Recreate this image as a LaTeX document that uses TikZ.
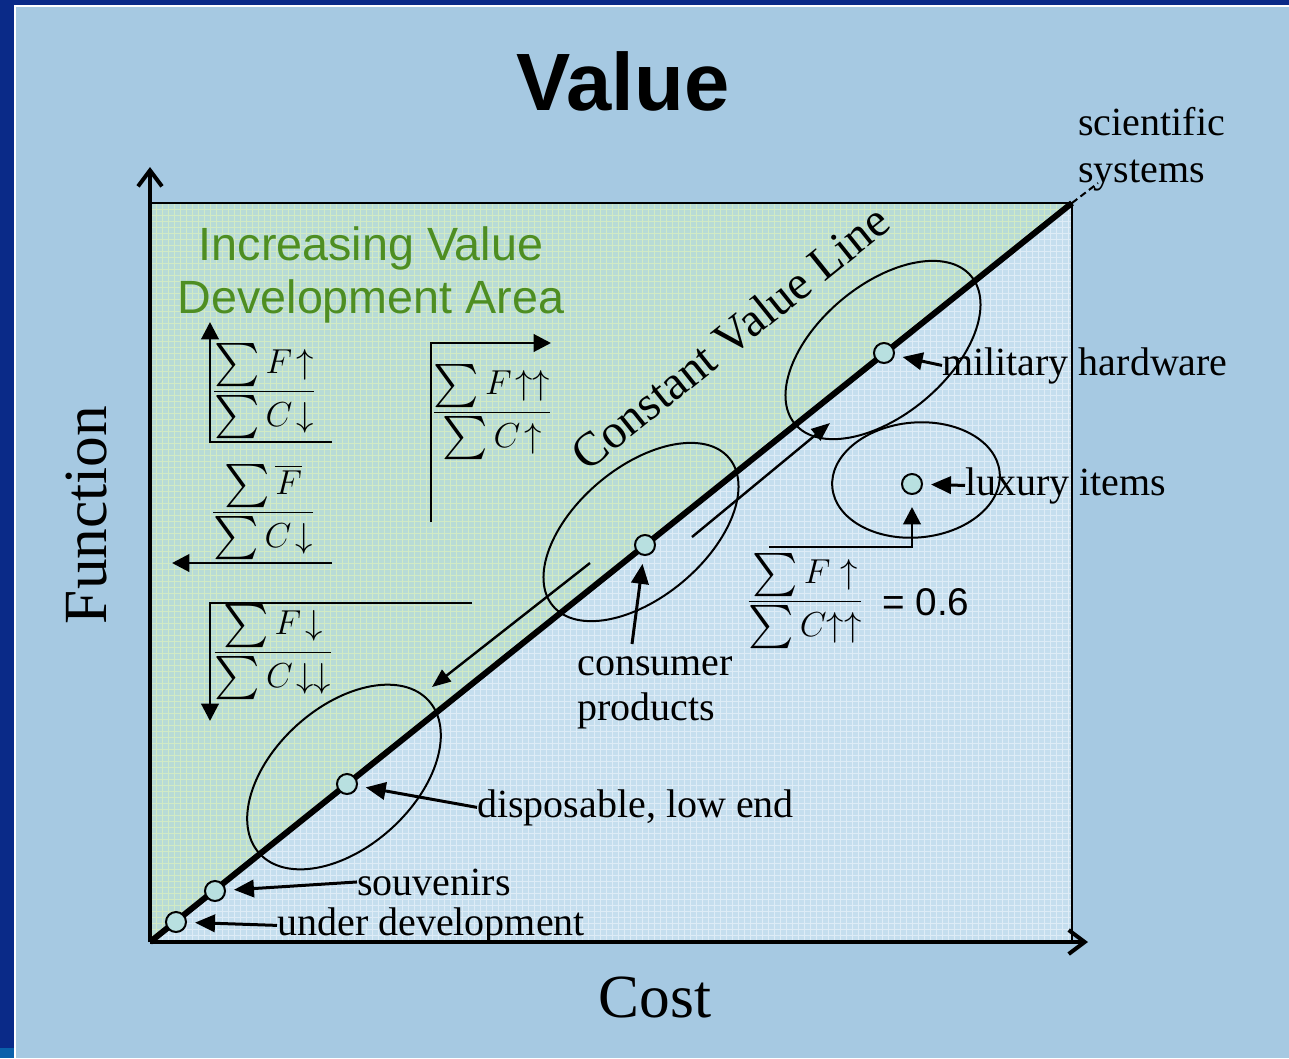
\RequirePackage{fix-cm}
\documentclass[tikz,border=0pt]{standalone}
\usepackage{amsmath}
\usepackage{fontspec}
\setmainfont{Liberation Serif}
\newfontfamily\sansf{Liberation Sans}
\usetikzlibrary{arrows.meta}
\definecolor{bgblue}{RGB}{166,201,226}
\definecolor{darkblue}{RGB}{10,42,136}
\definecolor{midblue}{RGB}{10,96,170}
\definecolor{greenarea}{RGB}{184,219,214}
\definecolor{bluearea}{RGB}{197,222,238}
\definecolor{gridgreen}{RGB}{210,234,196}
\definecolor{gridblue}{RGB}{222,236,246}
\definecolor{dotfill}{RGB}{184,224,224}
\definecolor{valgreen}{RGB}{78,142,34}
\newcommand\Sg{\mathop{\vcenter{\hbox{\scalebox{1.3}{$\textstyle\sum$}}}}}
\begin{document}
\begin{tikzpicture}[x=0.75pt,y=-0.75pt,
  dot/.style={circle,draw=black,line width=1.5pt,fill=dotfill,minimum size=15pt,inner sep=0pt},
  lbl/.style={font=\fontsize{30}{36}\selectfont,inner sep=0pt,anchor=base west},
  ptr/.style={line width=2.25pt,-{Triangle[length=15pt,width=13pt]},shorten >=6pt},
  fracnode/.style={font=\fontsize{26}{31}\selectfont,inner sep=0pt,anchor=base},
  larr/.style={line width=2.2pt,-{Triangle[length=13pt,width=13pt]}},
  diagarr/.style={line width=1.8pt,-{Triangle[length=14pt,width=11pt]}},
  axisline/.style={line width=3pt,-{Straight Barb[length=12pt,width=18pt]}},
  oval/.style={line width=1.5pt},
  gridlineg/.style={draw=gridgreen,line width=0.6pt},
  gridlineb/.style={draw=gridblue,line width=0.6pt}]
\useasboundingbox (0,0) rectangle (1289,1058);
% background frame
\fill[bgblue] (0,0) rectangle (1289,1058);
\fill[darkblue] (0,0) rectangle (14,1058);
\fill[darkblue] (0,0) rectangle (1289,5);
\fill[midblue] (0,1048) rectangle (14,1058);
\fill[white] (14,5) rectangle (16,1058);
\fill[white] (14,5) rectangle (1289,7);
% plot areas
\fill[greenarea] (150,942) -- (150,203) -- (1072,203) -- cycle;
\fill[bluearea] (150,942) -- (1072,942) -- (1072,203) -- cycle;
\begin{scope}
\clip (150,942) -- (150,203) -- (1072,203) -- cycle;
\foreach \i in {0,...,154} \draw[gridlineg] ({150+6*\i},203) -- ++(0,739);
\foreach \j in {0,...,124} \draw[gridlineg] (150,{203+6*\j}) -- ++(922,0);
\end{scope}
\begin{scope}
\clip (150,942) -- (1072,942) -- (1072,203) -- cycle;
\foreach \i in {0,...,154} \draw[gridlineb] ({150+6*\i},203) -- ++(0,739);
\foreach \j in {0,...,124} \draw[gridlineb] (150,{203+6*\j}) -- ++(922,0);
\end{scope}
% coordinates
\coordinate (O) at (150,942);
\coordinate (TR) at (1072,203);
\coordinate (BR) at (1072,942);
\coordinate (TL) at (150,203);
\coordinate (xend) at (1088,942);
\coordinate (yend) at (150,167);
\coordinate (dashend) at (1098,183);
% frame lines
\draw[line width=1.5pt] (TL) -- (TR) -- (BR);
\draw[line width=1.5pt,dash pattern=on 5pt off 3pt] (TR) -- (dashend);
% axes
\draw[axisline] (O) -- (yend);
\draw[axisline] (O) -- (xend);
% diagonal
\draw[line width=4.5pt] (O) -- (TR);
% ellipses
\draw[oval,rotate around={42:(344,777)}] (344,777) ellipse [x radius=114,y radius=70];
\draw[oval,rotate around={40:(641,532)}] (641,532) ellipse [x radius=115,y radius=65];
\draw[oval,rotate around={40:(883,350)}] (883,350) ellipse [x radius=115,y radius=65];
\draw[oval,rotate around={5:(916,480)}] (916,480) ellipse [x radius=84,y radius=57.5];
% diagonal arrows
\coordinate (d1s) at (590,563);
\coordinate (d1e) at (432,687);
\coordinate (d2s) at (692,537);
\coordinate (d2e) at (830,423);
\draw[diagarr] (d1s) -- (d1e);
\draw[diagarr] (d2s) -- (d2e);
% dots
\node[dot] (ud) at (176,922) {};
\node[dot] (sv) at (215,891) {};
\node[dot] (dp) at (347,784) {};
\node[dot] (cp) at (645,545) {};
\node[dot] (mh) at (884,353) {};
\node[dot] (lux) at (912,484) {};
% labels
\node[lbl] (udl) at (277,935) {under development};
\node[lbl] (svl) at (357,895) {souvenirs};
\node[lbl] (dpl) at (477,817) {disposable, low end};
\node[lbl] (cpl1) at (577,675) {consumer};
\node[lbl] (cpl2) at (577,720) {products};
\node[lbl] (mhl) at (942,375) {military hardware};
\node[lbl] (luxl) at (965,495) {luxury items};
\node[lbl] (sc1) at (1078,135) {scientific};
\node[lbl] (sc2) at (1078,182) {systems};
% pointers
\coordinate (cptail) at (632,644);
\draw[ptr] (udl.west) -- (ud);
\draw[ptr] (svl.west) -- (sv);
\draw[ptr] (dpl.west) -- (dp);
\draw[ptr] (cptail) -- (cp);
\draw[ptr] (mhl.west) -- (mh);
\draw[ptr] (luxl.west) -- (lux);
% title and axis labels
\node[font=\sansf\bfseries\fontsize{61}{72}\selectfont,inner sep=0pt,anchor=base] (title) at (623,110) {Value};
\node[font=\fontsize{46}{54}\selectfont,inner sep=0pt,anchor=base] (cost) at (655,1017) {Cost};
\node[font=\fontsize{46}{54}\selectfont,inner sep=0pt,anchor=base,rotate=90] (func) at (106,515) {Function};
\node[font=\fontsize{36}{42}\selectfont,inner sep=0pt,anchor=base,rotate=38.7] (cvl) at (740,350) {Constant Value Line};
\node[font=\sansf\fontsize{35}{41}\selectfont,text=valgreen,inner sep=0pt,anchor=base] (g1) at (371,260) {Increasing Value};
\node[font=\sansf\fontsize{35}{41}\selectfont,text=valgreen,inner sep=0pt,anchor=base] (g2) at (371,313) {Development Area};
% fractions
\node[fracnode] (f1) at (264,400) {$\dfrac{\Sg F\mkern2mu{\uparrow}}{\Sg C\mkern2mu{\downarrow}}$};
\node[fracnode] (f2) at (263,521) {$\dfrac{\Sg \overline{F}}{\Sg C\mkern2mu{\downarrow}}$};
\node[fracnode] (f3) at (273,661) {$\dfrac{\Sg F\mkern2mu{\downarrow}}{\Sg C\mkern2mu{\downarrow\downarrow}}$};
\node[fracnode] (f4) at (492,421) {$\dfrac{\Sg F\mkern2mu{\uparrow\uparrow}}{\Sg C\mkern2mu{\uparrow}}$};
\node[fracnode] (f5) at (805,610) {$\dfrac{\Sg F\;{\uparrow}}{\Sg C{\uparrow\uparrow}}$};
\node[font=\sansf\fontsize{29}{34}\selectfont,inner sep=0pt,anchor=base west] (eq) at (882,615) {= 0.6};
% L-shaped direction arrows
\coordinate (a1e) at (332,442);
\coordinate (a1c) at (210,442);
\coordinate (a1t) at (210,322);
\draw[larr] (a1e) -- (a1c) -- (a1t);
\coordinate (a2s) at (332,563);
\coordinate (a2t) at (172,563);
\draw[larr] (a2s) -- (a2t);
\coordinate (a3s) at (472,603);
\coordinate (a3c) at (210,603);
\coordinate (a3t) at (210,721);
\draw[larr] (a3s) -- (a3c) -- (a3t);
\coordinate (a4s) at (431,522);
\coordinate (a4c) at (431,343);
\coordinate (a4t) at (551,343);
\draw[larr] (a4s) -- (a4c) -- (a4t);
\coordinate (a5s) at (769,547);
\draw[larr,shorten >=9pt] (a5s) -| (lux);
\end{tikzpicture}
\end{document}
